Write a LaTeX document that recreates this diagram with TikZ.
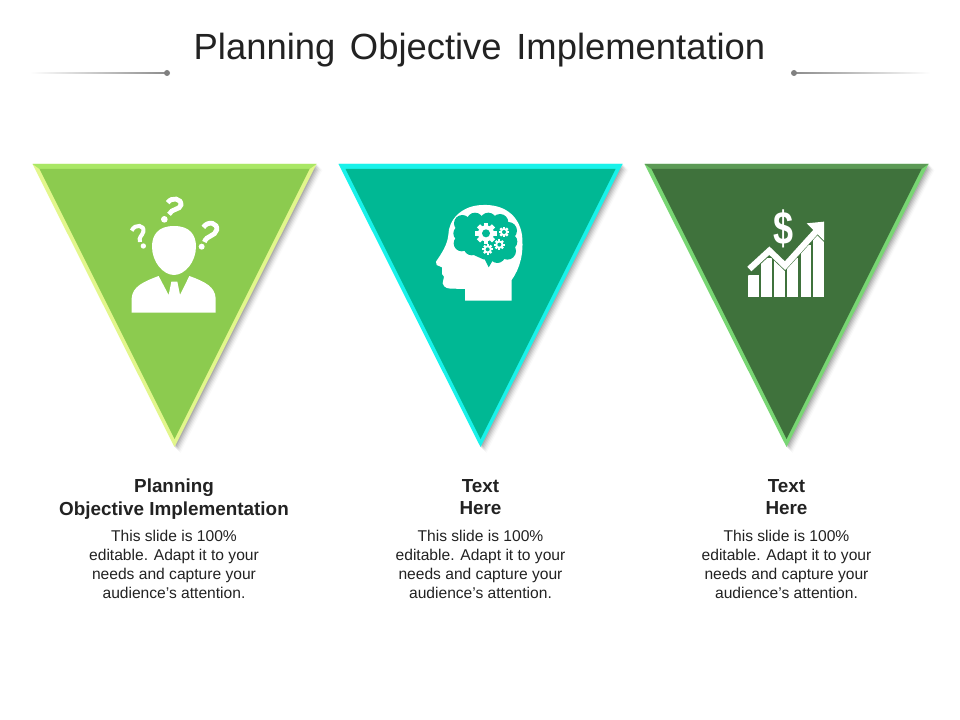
\documentclass[tikz,border=0pt]{standalone}
\usepackage{fontspec}
\setmainfont{Liberation Sans}
\usetikzlibrary{calc}
\definecolor{txt}{HTML}{222222}
\definecolor{gA}{HTML}{8CCB4F}\definecolor{tA}{HTML}{A9E765}\definecolor{sA}{HTML}{E2F68C}
\definecolor{gB}{HTML}{00B894}\definecolor{tB}{HTML}{19F2EA}\definecolor{sB}{HTML}{19F2EA}
\definecolor{gC}{HTML}{3F723C}\definecolor{tC}{HTML}{5C9A56}\definecolor{sC}{HTML}{78D673}
\tikzset{
 x=0.75pt,y=-0.75pt,
 titletext/.style={font=\fontsize{27.3pt}{30pt}\selectfont,text=txt,inner sep=0pt,anchor=center},
 headtext/.style={font=\bfseries\fontsize{14.15pt}{17pt}\selectfont,text=txt,align=center,inner sep=0pt,anchor=north},
 bodytext/.style={font=\fontsize{11.7pt}{14.2pt}\selectfont,text=txt,align=center,inner sep=0pt,anchor=north},
 qmark/.style={font=\bfseries\fontsize{#1}{#1}\selectfont,text=white,inner sep=0pt},
 qstroke/.style={draw=white,line width=3.6pt,line cap=butt},
}
\newcommand{\tri}[4]{% x-centre, fill, top, side
 \foreach \o/\a in {1/0.09,2/0.08,3/0.07,4/0.05,5/0.04,6/0.02}{
  \fill[black,opacity=\a] (#1-141+\o,164+\o) -- (#1+142+\o,164+\o) -- (#1+\o,447+\o) -- cycle;}
 \fill[#4] (#1-142,164) -- (#1+142,164) -- (#1,447) -- cycle;
 \fill[#3] (#1-142,164) -- (#1+142,164) -- (#1+135,169) -- (#1-135,169) -- cycle;
 \fill[#2] (#1-135,169) -- (#1+135,169) -- (#1,439) -- cycle;
}
\newcommand{\gearic}[5]{% x,y,r,hole,colour
 \foreach \k in {0,45,...,315}{
  \fill[white,rotate around={\k:(#1,#2)}] ($(#1,#2)+(-#3*0.28,-#3*1.32)$) rectangle ($(#1,#2)+(#3*0.28,0)$);}
 \fill[white] (#1,#2) circle[radius=#3];
 \fill[#5] (#1,#2) circle[radius=#4];
}
\begin{document}
\begin{tikzpicture}
\useasboundingbox (0,0) rectangle (960,720);
\fill[white] (0,0) rectangle (960,720);
\node[titletext] (title) at (479.5,50) {Planning\hspace{11pt}Objective\hspace{11pt}Implementation};
% ornament lines
\shade[left color=white,right color=gray!90] (30,72.6) rectangle (167,73.4);
\fill[gray] (167,73) circle[radius=3];
\shade[right color=white,left color=gray!90] (794,72.6) rectangle (930,73.4);
\fill[gray] (794,73) circle[radius=3];
% triangles
\tri{174.5}{gA}{tA}{sA}
\tri{480.5}{gB}{tB}{sB}
\tri{786.5}{gC}{tC}{sC}
% person icon
\begin{scope}[shift={(100,180)},x=0.25pt,y=-0.25pt]
 \fill[white] (222,138) .. controls (270,138) and (288,165) .. (288,200)
   .. controls (288,245) and (255,285) .. (222,285)
   .. controls (189,285) and (156,245) .. (156,200)
   .. controls (156,165) and (174,138) .. (222,138) -- cycle;
 \fill[white] (95,398) -- (95,355) .. controls (97,320) and (130,305) .. (176,288)
  -- (206,345) -- (214,305) -- (232,305) -- (240,345) -- (268,288)
  .. controls (315,305) and (345,320) .. (347,355) -- (347,398) -- cycle;
 \draw[qstroke] (203,68) .. controls (215,50) and (245,55) .. (243,75) .. controls (240,90) and (215,85) .. (207,103);
 \fill[white] (193,118) circle[radius=10];
 \draw[qstroke,line width=3pt] (95,152) .. controls (105,130) and (135,135) .. (130,155) .. controls (127,168) and (115,170) .. (120,186);
 \fill[white] (130,198) circle[radius=8];
 \draw[qstroke] (310,142) .. controls (325,120) and (355,130) .. (350,150) .. controls (345,170) and (320,165) .. (313,186);
 \fill[white] (305,200) circle[radius=9];
\end{scope}
% brain icon
\begin{scope}[shift={(420,190)},x=0.25pt,y=-0.25pt]
 \fill[white] (275,332) -- (275,270) .. controls (300,235) and (312,190) .. (306,135)
  .. controls (296,70) and (245,43) .. (190,45)
  .. controls (125,45) and (85,90) .. (85,135)
  .. controls (82,165) and (65,190) .. (48,215)
  -- (50,225) -- (66,232) -- (66,252) -- (72,260) -- (68,280)
  .. controls (72,295) and (85,296) .. (100,296) -- (135,297) -- (135,332) -- cycle;
 \fill[gB] (127,100) circle[radius=25] (165,93) circle[radius=25] (205,93) circle[radius=25]
  (240,97) circle[radius=25] (265,122) circle[radius=26] (268,155) circle[radius=24]
  (262,183) circle[radius=26] (232,195) circle[radius=24] (155,172) circle[radius=24]
  (125,160) circle[radius=24] (123,130) circle[radius=23];
 \fill[gB] (125,95) -- (240,92) -- (270,118) -- (268,185) -- (235,208) -- (190,208) -- (150,190) -- (118,165) -- cycle;
 \fill[gB] (190,200) -- (225,200) -- (206,232) -- cycle;
 \gearic{198}{130}{24}{12}{gB}
 \gearic{252}{126}{12}{6}{gB}
 \gearic{238}{164}{12}{6}{gB}
 \gearic{203}{178}{12}{6}{gB}
\end{scope}
% chart icon
\begin{scope}[shift={(730,195)},x=0.25pt,y=-0.25pt]
 \fill[white] (55,240) rectangle (86,305);
 \fill[white] (92,190) rectangle (125,305);
 \fill[white] (132,190) rectangle (165,305);
 \fill[white] (172,190) rectangle (205,305);
 \fill[white] (212,150) rectangle (244,305);
 \fill[white] (250,120) rectangle (282,305);
 \fill[gC] (40,255) -- (118,183) -- (165,228) -- (262,121) -- (290,148) -- (300,60) -- (40,60) -- cycle;
 \draw[white,line width=4.6pt,line join=miter] (58,222) -- (118,167) -- (165,212) -- (262,105);
 \fill[white] (230,85) -- (282,80) -- (282,137) -- cycle;
 \node[qmark=27pt,yscale=1.3] (dollar) at (160,102) {\$};
\end{scope}
% texts
\node[headtext] (h1) at (174,479) {Planning\\Objective Implementation};
\node[headtext] (h2) at (480.5,479) {Text\\Here};
\node[headtext] (h3) at (786.5,479) {Text\\Here};
\node[bodytext] (b1) at (174,530) {This slide is 100\%\\editable. Adapt it to your\\needs and capture your\\audience's attention.};
\node[bodytext] (b2) at (480.5,530) {This slide is 100\%\\editable. Adapt it to your\\needs and capture your\\audience's attention.};
\node[bodytext] (b3) at (786.5,530) {This slide is 100\%\\editable. Adapt it to your\\needs and capture your\\audience's attention.};
\end{tikzpicture}
\end{document}
